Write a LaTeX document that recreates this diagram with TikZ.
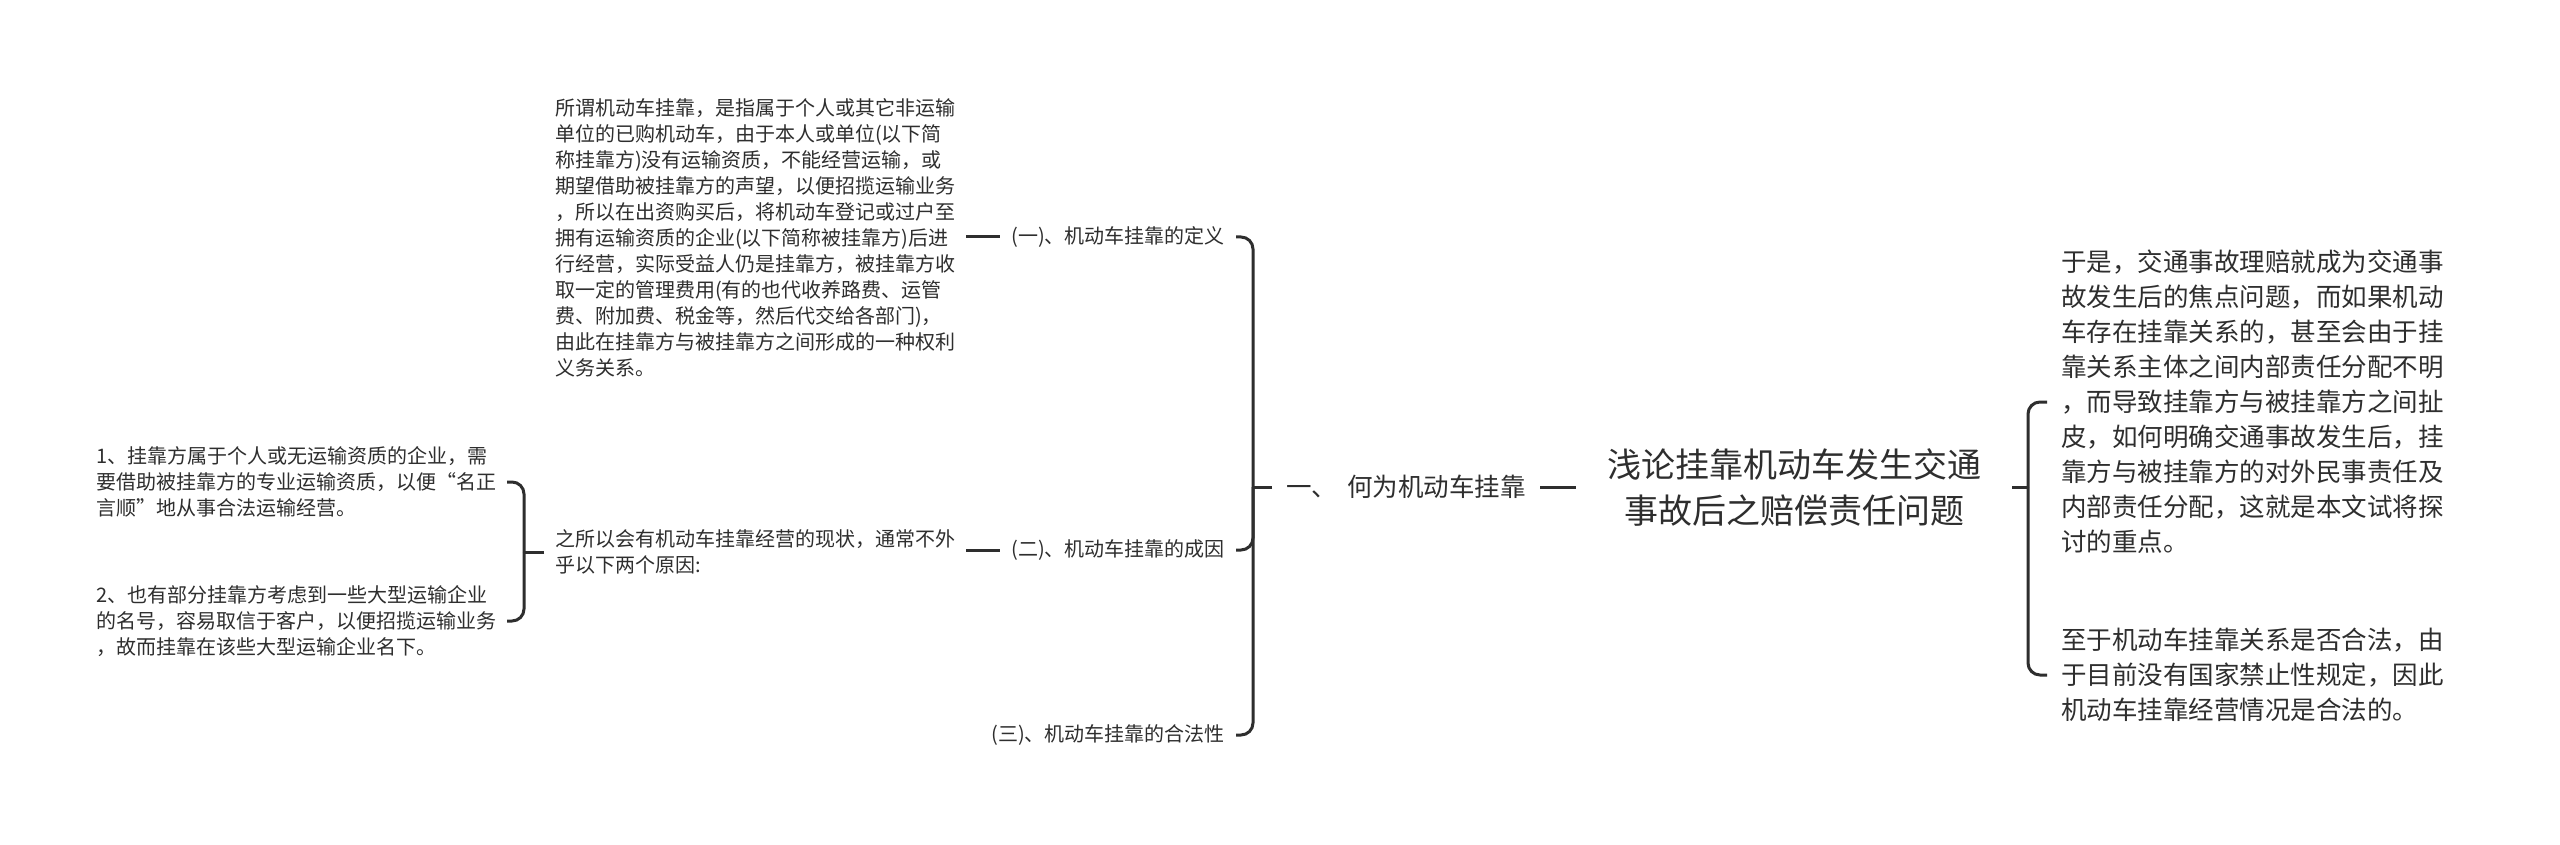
\documentclass[tikz,border=0pt]{standalone}
\usepackage{fontspec}
\setmainfont{Noto Sans CJK SC}
\usetikzlibrary{calc}
\definecolor{ink}{HTML}{2E2E2E}
\begin{document}
\begin{tikzpicture}[x=1pt,y=-1pt,
  conn/.style={draw=ink,line width=3pt},
  branch/.style={conn,rounded corners=12pt},
  small/.style={inner ysep=0pt,inner xsep=11pt,text width=400pt,align=left,font=\fontsize{20}{26}\selectfont,text=ink},
  lbl/.style={inner ysep=2pt,inner xsep=11pt,font=\fontsize{20}{26}\selectfont,text=ink},
  mid/.style={inner ysep=2pt,inner xsep=14pt,font=\fontsize{25.5}{35}\selectfont,text=ink},
  big/.style={inner ysep=0pt,inner xsep=14pt,text width=384pt,align=left,font=\fontsize{25.5}{35}\selectfont,text=ink},
  ttl/.style={inner ysep=0pt,inner xsep=30pt,text width=376pt,align=center,font=\fontsize{34}{46}\selectfont,text=ink}]
\fill[white] (0,0) rectangle (2560,845);
\useasboundingbox (0,0) rectangle (2560,845);

\coordinate (sL) at (1253,0);
\coordinate (sS) at (524,0);
\coordinate (sR) at (2028,0);

\node[ttl,anchor=west] (title) at (1576,487) {浅论挂靠机动车发生交通\\事故后之赔偿责任问题};
\node[mid,anchor=west] (n0) at (1272,487) {一、\hspace{0.4em}何为机动车挂靠};

\node[lbl,anchor=east] (n1) at (1236,237) {(一)、机动车挂靠的定义};
\node[lbl,anchor=east] (n2) at (1236,550) {(二)、机动车挂靠的成因};
\node[lbl,anchor=east] (n3) at (1236,735) {(三)、机动车挂靠的合法性};

\node[small,anchor=west] (def) at (544,238) {所谓机动车挂靠，是指属于个人或其它非运输\\单位的已购机动车，由于本人或单位(以下简\\称挂靠方)没有运输资质，不能经营运输，或\\期望借助被挂靠方的声望，以便招揽运输业务\\，所以在出资购买后，将机动车登记或过户至\\拥有运输资质的企业(以下简称被挂靠方)后进\\行经营，实际受益人仍是挂靠方，被挂靠方收\\取一定的管理费用(有的也代收养路费、运管\\费、附加费、税金等，然后代交给各部门)，\\由此在挂靠方与被挂靠方之间形成的一种权利\\义务关系。};

\node[small,anchor=west] (cause) at (544,552) {之所以会有机动车挂靠经营的现状，通常不外\\乎以下两个原因:};

\node[small,anchor=east,inner xsep=10pt] (it1) at (507,482) {1、挂靠方属于个人或无运输资质的企业，需\\要借助被挂靠方的专业运输资质，以便“名正\\言顺”地从事合法运输经营。};
\node[small,anchor=east,inner xsep=10pt] (it2) at (507,621) {2、也有部分挂靠方考虑到一些大型运输企业\\的名号，容易取信于客户，以便招揽运输业务\\，故而挂靠在该些大型运输企业名下。};

\node[big,anchor=west] (pA) at (2047,402) {于是，交通事故理赔就成为交通事\\故发生后的焦点问题，而如果机动\\车存在挂靠关系的，甚至会由于挂\\靠关系主体之间内部责任分配不明\\，而导致挂靠方与被挂靠方之间扯\\皮，如何明确交通事故发生后，挂\\靠方与被挂靠方的对外民事责任及\\内部责任分配，这就是本文试将探\\讨的重点。};
\node[big,anchor=west] (pB) at (2047,675) {至于机动车挂靠关系是否合法，由\\于目前没有国家禁止性规定，因此\\机动车挂靠经营情况是合法的。};

% connectors
\draw[conn] (n0.east) -- (title.west);
\draw[conn] (n1.west -| def.east) -- (n1.west);
\draw[conn] (n2.west -| cause.east) -- (n2.west);

\draw[conn] (n0.west) -- (n0.west -| sL);
\foreach \c in {n1,n2,n3}
  \draw[branch] (n0.west -| sL) -- (\c.east -| sL) -- (\c.east);

\draw[conn] (cause.west) -- (cause.west -| sS);
\foreach \c in {it1,it2}
  \draw[branch] (cause.west -| sS) -- (\c.east -| sS) -- (\c.east);

\draw[conn] (title.east) -- (title.east -| sR);
\foreach \c in {pA,pB}
  \draw[branch] (title.east -| sR) -- (\c.west -| sR) -- (\c.west);
\end{tikzpicture}
\end{document}
